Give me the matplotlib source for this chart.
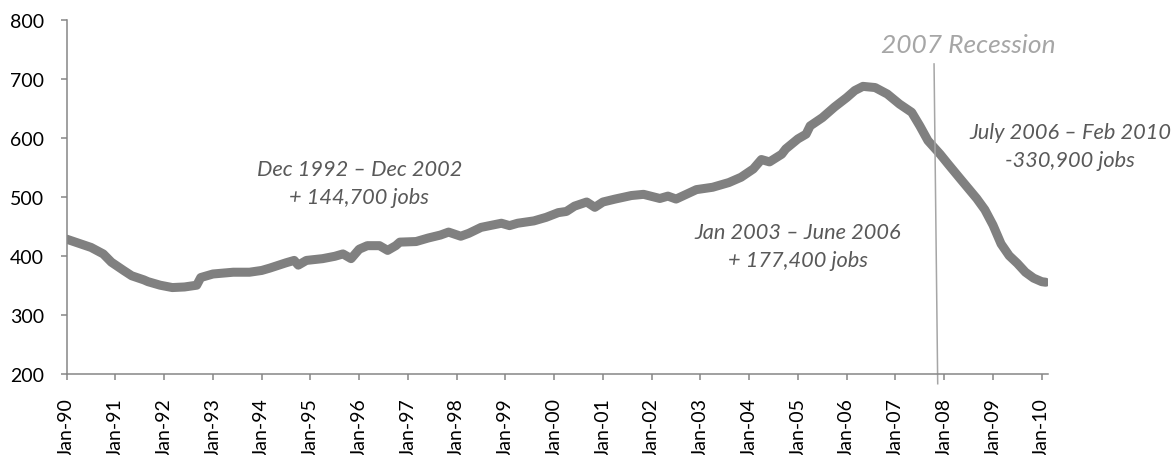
import numpy as np
import pandas as pd
import matplotlib
matplotlib.use("Agg")
import matplotlib.pyplot as plt

plt.rcParams["font.family"] = ["Lato", "DejaVu Sans"]

# ------------------------
# Data (thousands of jobs)
# ------------------------
months = [
    "1990-01", "1990-04", "1990-07", "1990-10", "1990-12", "1991-03", "1991-05",
    "1991-08", "1991-09", "1991-12", "1992-03", "1992-06", "1992-09", "1992-10",
    "1993-01", "1993-06", "1993-10", "1994-01", "1994-03", "1994-07", "1994-09",
    "1994-10", "1994-12", "1995-04", "1995-07", "1995-09", "1995-11", "1996-01",
    "1996-03", "1996-06", "1996-08", "1996-10", "1996-11", "1997-03", "1997-06",
    "1997-09", "1997-11", "1998-02", "1998-04", "1998-07", "1998-12", "1999-02",
    "1999-04", "1999-08", "1999-11", "2000-02", "2000-04", "2000-06", "2000-09",
    "2000-11", "2001-01", "2001-04", "2001-08", "2001-11", "2002-03", "2002-05",
    "2002-07", "2002-12", "2003-04", "2003-08", "2003-11", "2004-02", "2004-04",
    "2004-06", "2004-09", "2004-10", "2005-01", "2005-03", "2005-04", "2005-07",
    "2005-10", "2006-01", "2006-03", "2006-05", "2006-08", "2006-11", "2007-02",
    "2007-05", "2007-07", "2007-09", "2007-12", "2008-02", "2008-05", "2008-09",
    "2008-11", "2009-01", "2009-03", "2009-05", "2009-07", "2009-09", "2009-11",
    "2010-01", "2010-02",
]
jobs = [
    428, 421, 414, 403, 389, 375, 366,
    359, 356, 350, 346, 347, 350, 363,
    369, 372, 372, 375, 379, 388, 392,
    384, 392, 395, 399, 403, 395, 411,
    417, 417, 409, 417, 423, 424, 430,
    435, 440, 433, 438, 448, 455, 451,
    455, 459, 465, 473, 475, 484, 491,
    482, 491, 496, 502, 504, 497, 501,
    496, 512, 516, 524, 533, 547, 563,
    559, 572, 581, 598, 606, 620, 634,
    652, 668, 680, 687, 685, 674, 657,
    643, 620, 595, 572, 555, 530, 497,
    478, 452, 420, 400, 387, 372, 362,
    356, 355,
]

year_ticks = list(range(1990, 2011))
tick_labels = [f"Jan-{y % 100:02d}" for y in year_ticks]

annotations = [
    ("Dec 1992 \u2013 Dec 2002\n+ 144,700 jobs", "1996-01", 523),
    ("Jan 2003 \u2013 June 2006\n+ 177,400 jobs", "2005-01", 416),
    ("July 2006 \u2013 Feb 2010\n-330,900 jobs", "2010-08", 586),
]
recession_label = "2007 Recession"
recession_month = "2007-11"


def month_index(s):
    p = pd.Period(s, freq="M")
    return (p.year - 1990) * 12 + (p.month - 1)


x = np.array([month_index(m) for m in months])
y = np.array(jobs)

# ------------------------
# Figure
# ------------------------
fig = plt.figure(figsize=(11.76, 4.56), dpi=100)
ax = fig.add_axes([66.7 / 1176, 81.3 / 456, 981.1 / 1176, 354.0 / 456])

ax.plot(x, y, color="#808080", linewidth=6.5,
        solid_capstyle="round", solid_joinstyle="round")

ax.set_xlim(0, 241.5)
ax.set_ylim(200, 800)
ax.set_yticks(range(200, 801, 100))
ax.set_xticks([(yr - 1990) * 12 for yr in year_ticks])
ax.set_xticklabels(tick_labels, rotation=90)

axis_grey = "#868686"
for side in ("top", "right"):
    ax.spines[side].set_visible(False)
for side in ("left", "bottom"):
    ax.spines[side].set_color(axis_grey)
    ax.spines[side].set_linewidth(1.1)
ax.tick_params(axis="both", direction="out", length=4.5, width=1.1,
               color=axis_grey, labelsize=14, labelcolor="black")
ax.tick_params(axis="y", pad=12)
ax.tick_params(axis="x", pad=12.5)

# recession marker (slightly slanted, as drawn)
rx = month_index(recession_month)
ax.plot([rx - 0.5, rx + 0.4], [725, 183], color="#A6A6A6", linewidth=1.1,
        clip_on=False)
ax.text(rx + 8, 758, recession_label, ha="center", va="center",
        fontsize=19, style="italic", color="#A6A6A6")

for label, m, v in annotations:
    ax.text(month_index(m), v, label, ha="center", va="center",
            multialignment="center", fontsize=15.7, style="italic",
            color="#595959", linespacing=1.5, clip_on=False)

fig.savefig("out.png", dpi=100)
